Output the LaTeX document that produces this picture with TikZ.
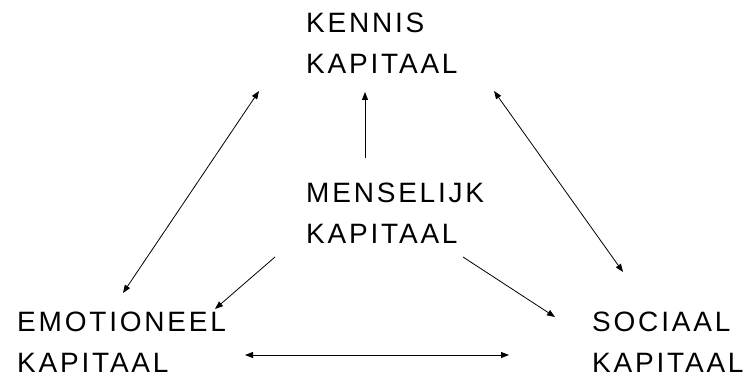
\documentclass[tikz,border=0pt]{standalone}
\usepackage{fontspec}
\setmainfont{Liberation Sans}[LetterSpace=10]
\usetikzlibrary{arrows.meta}
\begin{document}
\begin{tikzpicture}[x=1pt,y=-1pt,
  caplabel/.style={anchor=north west,inner sep=0pt,align=left,
    font=\fontsize{28}{41}\selectfont},
  link/.style={line width=0.8pt,-{Triangle[length=8pt,width=6pt]}},
  twoway/.style={line width=0.8pt,{Triangle[length=8pt,width=6pt]}-{Triangle[length=8pt,width=6pt]}}]
\useasboundingbox (0,0) rectangle (752,379);

% capital labels
\node[caplabel] (kennis) at (306,13) {KENNIS\\KAPITAAL};
\node[caplabel] (mens) at (306,183) {MENSELIJK\\KAPITAAL};
\node[caplabel] (emo) at (17,312) {EMOTIONEEL\\KAPITAAL};
\node[caplabel] (soc) at (592,312) {SOCIAAL\\KAPITAAL};

% arrow end points
\coordinate (kL) at (259,91);
\coordinate (kM) at (365,92);
\coordinate (kR) at (494,91);
\coordinate (eT) at (123,293);
\coordinate (eR) at (215,309);
\coordinate (eB) at (245,355);
\coordinate (mT) at (365,158);
\coordinate (mL) at (275,257);
\coordinate (mR) at (463,257);
\coordinate (sT) at (623,272);
\coordinate (sL) at (555,317);
\coordinate (sB) at (509,355);

% connectors
\draw[twoway] (eT) -- (kL);
\draw[twoway] (kR) -- (sT);
\draw[twoway] (eB) -- (sB);
\draw[link] (mT) -- (kM);
\draw[link] (mL) -- (eR);
\draw[link] (mR) -- (sL);
\end{tikzpicture}
\end{document}
